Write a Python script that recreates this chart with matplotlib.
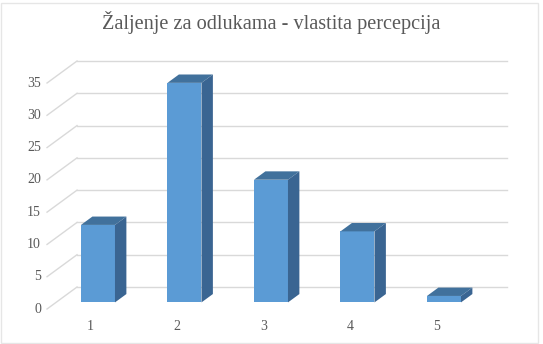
import matplotlib
matplotlib.use("Agg")
import matplotlib.pyplot as plt
from matplotlib.patches import Polygon, Rectangle

categories = ["1", "2", "3", "4", "5"]
values = [12, 34, 19, 11, 1]
yticks = [0, 5, 10, 15, 20, 25, 30, 35]
title = "Žaljenje za odlukama - vlastita percepcija"

FRONT = "#5B9BD5"
TOP = "#41719C"
SIDE = "#3A6592"
GRID = "#D9D9D9"
TXT = "#595959"

fig = plt.figure(figsize=(5.43, 3.44), dpi=100)
fig.patches.append(Rectangle((0.002, 0.002), 0.988, 0.99, transform=fig.transFigure,
                             fill=False, edgecolor="#E6E6E6", lw=1.0))
ax = fig.add_axes([0.0866, 0.1017, 0.7965, 0.657])
ax.set_xlim(0.5, 5.5)
ax.set_ylim(0, 35)
ax.axis("off")

# depth vector (full floor depth) in data units
DX, DY = 0.347, 3.41
f1, f2 = 0.30, 0.68
bw = 0.393

# back wall gridlines and left wall diagonals
x0, x1 = 0.5, 5.5
for t in yticks:
    ax.plot([x0 + DX, x1 + DX - 0.03], [t + DY, t + DY], color=GRID, lw=1.0,
            clip_on=False, zorder=1)
    ax.plot([x0, x0 + DX], [t, t + DY], color=GRID, lw=1.0, clip_on=False, zorder=1)
    ax.text(x0 - 0.07, t, str(t), ha="right", va="center", fontsize=10,
            color=TXT, family="Liberation Serif")

# bars
xs = list(range(1, len(values) + 1))
for i, (x, v) in enumerate(zip(xs, values)):
    bx = x + f1 * DX - bw / 2 - 0.015
    by = f1 * DY
    ddx = (f2 - f1) * DX
    ddy = (f2 - f1) * DY
    ax.bar(bx, v, width=bw, bottom=by, align="edge", color=FRONT, zorder=3 + i,
           clip_on=False, linewidth=0)
    top = Polygon([(bx, by + v), (bx + bw, by + v), (bx + bw + ddx, by + v + ddy),
                   (bx + ddx, by + v + ddy)], closed=True, facecolor=TOP,
                  edgecolor="none", zorder=3 + i, clip_on=False)
    side = Polygon([(bx + bw, by), (bx + bw + ddx, by + ddy),
                    (bx + bw + ddx, by + v + ddy), (bx + bw, by + v)], closed=True,
                   facecolor=SIDE, edgecolor="none", zorder=3 + i, clip_on=False)
    ax.add_patch(top)
    ax.add_patch(side)
    ax.text(x, -1.7, categories[i], ha="center", va="top", fontsize=10, color=TXT,
            family="Liberation Serif")

fig.text(0.5, 0.935, title, ha="center", va="center", fontsize=14.6, color=TXT,
         family="Liberation Serif")

fig.savefig("out.png", dpi=100)
